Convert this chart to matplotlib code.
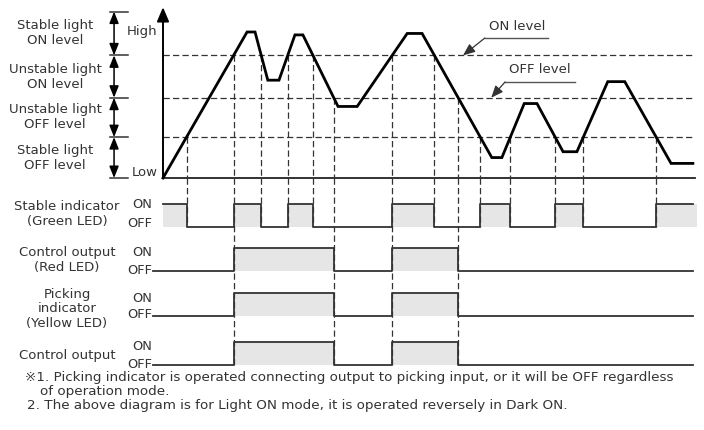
import numpy as np
import matplotlib
matplotlib.use('Agg')
import matplotlib.pyplot as plt

plt.rcParams['font.family'] = ['DejaVu Sans', 'Noto Sans CJK JP']

W, H = 704, 430
txt_col = '#333333'

# light level waveform (time in % of the window, level in % of Low..High)
wave_t = [0, 15.8, 17.3, 19.7, 21.8, 24.8, 26.3, 32.9, 36.5, 45.9, 48.7,
          61.8, 63.7, 67.9, 70.3, 75.2, 77.8, 83.6, 86.8, 95.5, 99.6]
wave_lvl = [0, 100, 100, 67, 67, 98, 98, 49, 49, 99, 99,
            14, 14, 51, 51, 18, 18, 66, 66, 10, 10]

on_level = 84
off_level = 55
stable_off = 28
band_edges = [114, on_level, off_level, stable_off, 0]
band_names = ['Stable light\nON level', 'Unstable light\nON level',
              'Unstable light\nOFF level', 'Stable light\nOFF level']

row_names = ['Stable indicator\n(Green LED)', 'Control output\n(Red LED)',
             'Picking\nindicator\n(Yellow LED)', 'Control output']

notes = ['\u203b1. Picking indicator is operated connecting output to picking input, or it will be OFF regardless',
         'of operation mode.',
         '2. The above diagram is for Light ON mode, it is operated reversely in Dark ON.']


def crossings(t, y, lev):
    out = []
    for i in range(len(t) - 1):
        y0, y1 = y[i], y[i + 1]
        if (y0 - lev) * (y1 - lev) < 0:
            tc = t[i] + (lev - y0) / (y1 - y0) * (t[i + 1] - t[i])
            out.append((tc, 1 if y1 > y0 else -1))
    return out


ev_on = crossings(wave_t, wave_lvl, on_level)
ev_off = crossings(wave_t, wave_lvl, off_level)
ev_st = crossings(wave_t, wave_lvl, stable_off)

# stable indicator toggles on every ON level / stable OFF level crossing
stable_ev = sorted([e[0] for e in ev_on] + [e[0] for e in ev_st])
stable_start = wave_lvl[0] < stable_off or wave_lvl[0] > on_level

# control output with hysteresis
ctrl_ev = []
state = False
for tc, kind, d in sorted([(e[0], 'on', e[1]) for e in ev_on] + [(e[0], 'off', e[1]) for e in ev_off]):
    if not state and kind == 'on' and d > 0:
        state = True
        ctrl_ev.append(tc)
    elif state and kind == 'off' and d < 0:
        state = False
        ctrl_ev.append(tc)

lvl_at = lambda tc: np.interp(tc, wave_t, wave_lvl)

fig = plt.figure(figsize=(W / 100, H / 100), dpi=100)
fig.patch.set_facecolor('white')


def px(x, y):
    return x / W, 1 - y / H


ax_w = fig.add_axes([163 / W, 1 - 178 / H, 532 / W, 146 / H])
ax_w.set_xlim(0, 100)
ax_w.set_ylim(0, 100)
ax_w.axis('off')

ax_d = fig.add_axes([163 / W, 1 - 370 / H, 532 / W, 192 / H])
ax_d.set_xlim(0, 100)
ax_d.set_ylim(8.35, 0)
ax_d.axis('off')

dash = (0, (5, 2.6))

# threshold lines
ax_w.hlines([on_level, off_level, stable_off], 0, 100, colors='#333333', lw=0.9, linestyles=dash)

# axes
ax_w.plot([0, 100], [0, 0], color='#222222', lw=1.3, clip_on=False)
ax_w.annotate('', xy=(0, 117), xytext=(0, 0), annotation_clip=False,
              arrowprops=dict(arrowstyle='-|>,head_length=0.66,head_width=0.28', lw=1.4,
                              color='black', mutation_scale=13, shrinkA=0, shrinkB=0))
ax_w.text(-1.0, 100, 'High', ha='right', va='center', fontsize=9.5, color=txt_col, clip_on=False)
ax_w.text(-1.0, 3.6, 'Low', ha='right', va='center', fontsize=9.5, color=txt_col, clip_on=False)

# bracket with level bands
for b in band_edges:
    ax_w.plot([-9.9, -6.6], [b, b], color='#333333', lw=1.1, clip_on=False)
for i, name in enumerate(band_names):
    ax_w.annotate('', xy=(-9.2, band_edges[i]), xytext=(-9.2, band_edges[i + 1]), annotation_clip=False,
                  arrowprops=dict(arrowstyle='<|-|>,head_length=0.5,head_width=0.2', lw=1.1,
                                  color='black', mutation_scale=14, shrinkA=0, shrinkB=0))
    mid = (band_edges[i] + band_edges[i + 1]) / 2
    ax_w.text(-20.3, mid, name, ha='center', va='center', fontsize=9.5, color=txt_col,
              linespacing=1.2, clip_on=False)

# dashed verticals at each switching point
ev_all = sorted(set(np.round(stable_ev + ctrl_ev, 3)))
for tc in ev_all:
    ax_w.plot([tc, tc], [lvl_at(tc), 0], color='#333333', lw=0.9, ls=dash, clip_on=False)
    major = any(abs(tc - c) < 0.01 for c in ctrl_ev)
    ax_d.plot([tc, tc], [0, 8.13 if major else 2.13], color='#333333', lw=0.9, ls=dash, clip_on=False)

# the waveform
ax_w.plot(wave_t, wave_lvl, color='black', lw=2.0, solid_joinstyle='miter', clip_on=False)

# level annotations
arr = dict(arrowstyle='-|>,head_length=0.6,head_width=0.25', lw=0.9, color='#333333',
           mutation_scale=12, shrinkA=0, shrinkB=0)
ax_w.annotate('', xy=(56.4, on_level), xytext=(60.5, 95.9), annotation_clip=False, arrowprops=arr)
ax_w.plot([60.5, 72.4], [95.9, 95.9], color='#555555', lw=1.0, clip_on=False)
ax_w.text(66.5, 104, 'ON level', ha='center', va='center', fontsize=9.5, color=txt_col, clip_on=False)
ax_w.annotate('', xy=(61.7, off_level), xytext=(64.3, 65.8), annotation_clip=False, arrowprops=arr)
ax_w.plot([64.3, 77.4], [65.8, 65.8], color='#555555', lw=1.0, clip_on=False)
ax_w.text(70.9, 74, 'OFF level', ha='center', va='center', fontsize=9.5, color=txt_col, clip_on=False)

# digital rows
row_off = [2.13, 4.04, 5.99, 8.13]
row_events = [stable_ev, ctrl_ev, ctrl_ev, ctrl_ev]
row_start = [stable_start, False, False, False]
row_t0 = [0, -1.8, -1.8, -1.8]
on_ty = [205, 252, 298, 346]
off_ty = [223, 270, 315, 364]
label_y = [214, 260, 309, 355]

for r in range(4):
    edges = [row_t0[r]] + list(row_events[r]) + [100.3]
    st = row_start[r]
    xs, ys = [], []
    for k in range(len(edges) - 1):
        v = row_off[r] - (1 if st else 0)
        xs += [edges[k], edges[k + 1]]
        ys += [v, v]
        if st:
            ax_d.fill_between([edges[k], edges[k + 1]], row_off[r] - 1, row_off[r],
                              color='#e6e6e6', lw=0, clip_on=False)
        st = not st
    ax_d.plot(xs[:-1] + [99.7], ys, color='#333333', lw=1.3, clip_on=False)
    fig.text(*px(152, on_ty[r]), 'ON', ha='right', va='center', fontsize=9.3, color=txt_col)
    fig.text(*px(152, off_ty[r]), 'OFF', ha='right', va='center', fontsize=9.3, color=txt_col)
    fig.text(*px(67, label_y[r]), row_names[r], ha='center', va='center', fontsize=9.5,
             color=txt_col, linespacing=1.15)

# notes
fig.text(*px(25, 378), notes[0], ha='left', va='center', fontsize=9.7, color=txt_col)
fig.text(*px(40, 392), notes[1], ha='left', va='center', fontsize=9.7, color=txt_col)
fig.text(*px(27, 405), notes[2], ha='left', va='center', fontsize=9.7, color=txt_col)

fig.savefig('out.png', dpi=100)
